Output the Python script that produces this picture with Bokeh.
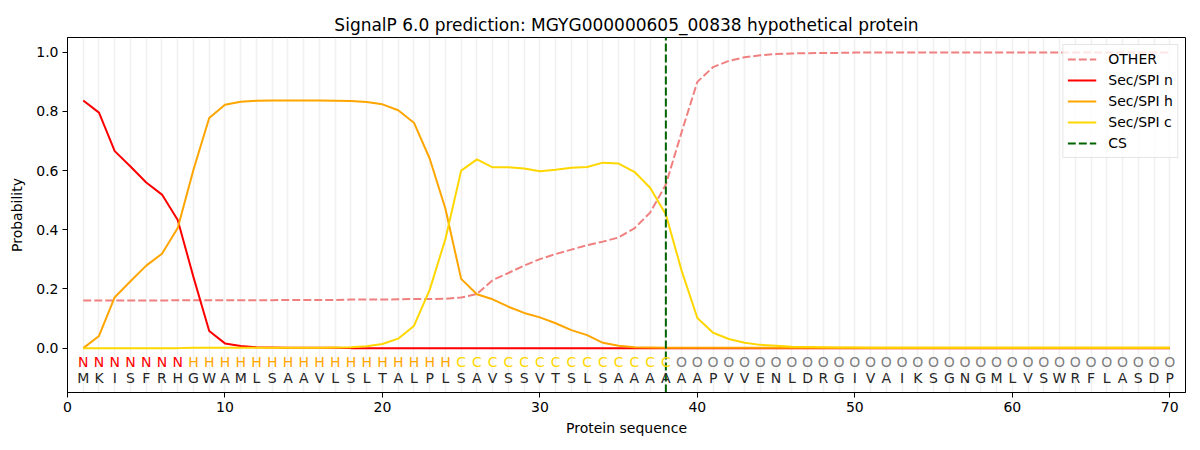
from bokeh.plotting import figure
from bokeh.models import ColumnDataSource, FixedTicker, Legend, LegendItem, Range1d, PrintfTickFormatter
from bokeh.embed import file_html
from bokeh.resources import INLINE
from bokeh.core.properties import value

title_text = "SignalP 6.0 prediction: MGYG000000605_00838 hypothetical protein"
sequence = list("MKISFRHGWAMLSAAVLSLTALPLSAVSSVTSLSAAAAAAPVVENLDRGIVAIKSGNGMLVSWRFLASDP")
labels = list("N" * 7 + "H" * 17 + "C" * 14 + "O" * 32)
positions = list(range(1, len(sequence) + 1))
cs_pos = 38

other = [0.161, 0.161, 0.161, 0.161, 0.161, 0.161, 0.162, 0.162, 0.162, 0.162,
         0.162, 0.162, 0.162, 0.163, 0.163, 0.163, 0.163, 0.164, 0.164, 0.164,
         0.165, 0.166, 0.166, 0.167, 0.171, 0.183, 0.230, 0.254, 0.279, 0.301,
         0.318, 0.333, 0.348, 0.360, 0.374, 0.405, 0.458, 0.553, 0.730, 0.900,
         0.950, 0.971, 0.983, 0.990, 0.994, 0.996, 0.997, 0.998, 0.998, 0.999,
         0.999, 0.999, 0.999, 0.999, 0.999, 0.999, 0.999, 0.999, 0.999, 0.999,
         0.999, 0.999, 0.999, 0.999, 0.999, 0.999, 0.999, 0.999, 0.999, 0.999]
sp_n = [0.837, 0.796, 0.666, 0.614, 0.560, 0.519, 0.433, 0.240, 0.058, 0.016,
        0.007, 0.003, 0.002, 0.001, 0.001, 0.001, 0.001, 0.0, 0.0, 0.0,
        0.0, 0.0, 0.0, 0.0, 0.0, 0.0, 0.0, 0.0, 0.0, 0.0,
        0.0, 0.0, 0.0, 0.0, 0.0, 0.0, 0.0, 0.0, 0.0, 0.0,
        0.0, 0.0, 0.0, 0.0, 0.0, 0.0, 0.0, 0.0, 0.0, 0.0,
        0.0, 0.0, 0.0, 0.0, 0.0, 0.0, 0.0, 0.0, 0.0, 0.0,
        0.0, 0.0, 0.0, 0.0, 0.0, 0.0, 0.0, 0.0, 0.0, 0.0]
sp_h = [0.0, 0.041, 0.172, 0.226, 0.279, 0.319, 0.406, 0.603, 0.778, 0.823,
        0.833, 0.836, 0.837, 0.837, 0.837, 0.837, 0.836, 0.835, 0.832, 0.824,
        0.804, 0.762, 0.641, 0.471, 0.234, 0.182, 0.165, 0.140, 0.119, 0.104,
        0.084, 0.061, 0.044, 0.018, 0.008, 0.003, 0.002, 0.001, 0.001, 0.001,
        0.001, 0.001, 0.001, 0.001, 0.001, 0.001, 0.001, 0.001, 0.001, 0.001,
        0.001, 0.001, 0.001, 0.001, 0.001, 0.001, 0.001, 0.001, 0.001, 0.001,
        0.001, 0.001, 0.001, 0.001, 0.001, 0.001, 0.001, 0.001, 0.001, 0.001]
sp_c = [0.0, 0.0, 0.0, 0.0, 0.0, 0.0, 0.0, 0.001, 0.001, 0.001,
        0.001, 0.001, 0.001, 0.001, 0.001, 0.001, 0.002, 0.003, 0.006, 0.014,
        0.032, 0.075, 0.197, 0.369, 0.600, 0.638, 0.611, 0.611, 0.607, 0.598,
        0.603, 0.610, 0.612, 0.627, 0.624, 0.596, 0.542, 0.452, 0.262, 0.102,
        0.052, 0.031, 0.018, 0.011, 0.008, 0.005, 0.004, 0.003, 0.002, 0.002,
        0.001, 0.001, 0.001, 0.001, 0.001, 0.001, 0.001, 0.001, 0.001, 0.001,
        0.001, 0.001, 0.001, 0.001, 0.001, 0.001, 0.001, 0.001, 0.001, 0.001]

x_ticks = [0, 10, 20, 30, 40, 50, 60, 70]
y_ticks = [0.0, 0.2, 0.4, 0.6, 0.8, 1.0]
x_lo, x_hi = 0, len(sequence) + 1
y_lo, y_hi = -0.15, 1.05
label_row_y = -0.048
seq_row_y = -0.100

FONT = "DejaVu Sans"
label_colors = {"N": "red", "H": "orange", "C": "gold", "O": "gray"}

p = figure(frame_width=1118, frame_height=355,
           min_border_left=67, min_border_right=15, min_border_top=37, min_border_bottom=58,
           x_range=Range1d(x_lo, x_hi), y_range=Range1d(y_lo, y_hi),
           output_backend="svg", toolbar_location=None, background_fill_color="white",
           border_fill_color="white")

p.title.text = title_text
p.title.align = "center"
p.title.text_font = FONT
p.title.text_font_size = "17px"
p.title.text_font_style = "normal"
p.title.text_color = "black"
p.title.offset = 0
p.title.standoff = 6

p.outline_line_color = "black"
p.outline_line_width = 1
p.outline_line_alpha = 1

p.ygrid.visible = False
p.xgrid.ticker = FixedTicker(ticks=positions)
p.xgrid.grid_line_color = "#d3d3d3"
p.xgrid.grid_line_alpha = 0.35
p.xgrid.grid_line_width = 1.5

for ax in (p.xaxis[0], p.yaxis[0]):
    ax.major_tick_in = 0
    ax.major_tick_out = 5
    ax.minor_tick_in = 0
    ax.minor_tick_out = 0
    ax.major_label_text_font = FONT
    ax.major_label_text_font_size = "14px"
    ax.axis_label_text_font = FONT
    ax.axis_label_text_font_size = "14px"
    ax.axis_label_text_font_style = "normal"
    ax.axis_label_text_color = "black"
    ax.axis_line_color = "black"
    ax.major_tick_line_color = "black"
    ax.major_label_text_color = "black"

p.xaxis.ticker = FixedTicker(ticks=x_ticks)
p.yaxis.ticker = FixedTicker(ticks=y_ticks)
p.yaxis.formatter = PrintfTickFormatter(format="%.1f")
p.xaxis.axis_label = "Protein sequence"
p.yaxis.axis_label = "Probability"
p.xaxis.major_label_standoff = 4
p.yaxis.major_label_standoff = 4
p.xaxis.axis_label_standoff = 5
p.yaxis.axis_label_standoff = 8

src = ColumnDataSource(data=dict(x=positions, other=other, n=sp_n, h=sp_h, c=sp_c))

r_other = p.line("x", "other", source=src, line_color="lightcoral", line_width=2, line_dash="8 3")
r_n = p.line("x", "n", source=src, line_color="red", line_width=2)
r_h = p.line("x", "h", source=src, line_color="orange", line_width=2)
r_c = p.line("x", "c", source=src, line_color="gold", line_width=2)
r_cs = p.line(x=[cs_pos, cs_pos], y=[y_lo, y_hi], line_color="darkgreen", line_width=2, line_dash="8 3")

txt_src = ColumnDataSource(data=dict(
    x=positions,
    ly=[label_row_y] * len(positions),
    sy=[seq_row_y] * len(positions),
    lab=labels,
    seq=sequence,
    col=[label_colors[l] for l in labels],
))
p.text("x", "ly", text="lab", source=txt_src, text_color="col", text_align="center",
       text_baseline="middle", text_font=value(FONT), text_font_size="14px")
p.text("x", "sy", text="seq", source=txt_src, text_color="#262626", text_align="center",
       text_baseline="middle", text_font=value(FONT), text_font_size="14px")

legend = Legend(items=[
    LegendItem(label="OTHER", renderers=[r_other]),
    LegendItem(label="Sec/SPI n", renderers=[r_n]),
    LegendItem(label="Sec/SPI h", renderers=[r_h]),
    LegendItem(label="Sec/SPI c", renderers=[r_c]),
    LegendItem(label="CS", renderers=[r_cs]),
], location="top_right")
legend.margin = 7
legend.padding = 4
legend.spacing = 1
legend.glyph_width = 29
legend.glyph_height = 20
legend.label_height = 20
legend.label_standoff = 12
legend.label_text_font = FONT
legend.label_text_font_size = "14px"
legend.label_text_color = "black"
legend.border_line_color = "#cccccc"
legend.border_line_width = 1
legend.background_fill_alpha = 0.8
p.add_layout(legend)

open("out.html", "w").write(file_html(p, INLINE))
